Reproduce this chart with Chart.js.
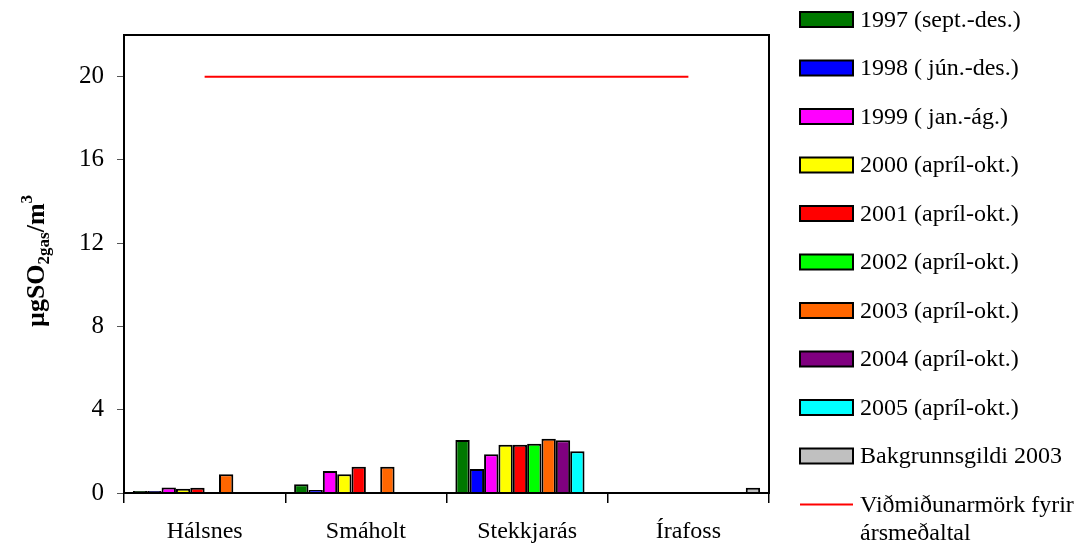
<!DOCTYPE html>
<html>
<head>
<meta charset="utf-8">
<script src="https://cdn.jsdelivr.net/npm/chart.js@4/dist/chart.umd.min.js"></script>
<style>
  html, body { margin: 0; padding: 0; background: #fff; }
  #wrap { width: 1087px; height: 550px; }
</style>
</head>
<body>
<div id="wrap"><canvas id="c" width="1087" height="550"></canvas></div>
<script>
// Measuring stations
const categories = ['Hálsnes', 'Smáholt', 'Stekkjarás', 'Írafoss'];

// Mean SO2 concentration (µg/m3) per station and measuring period
const s1997 = [0.1, 0.42, 2.55, null];
const s1998 = [0.1, 0.15, 1.15, null];
const s1999 = [0.27, 1.06, 1.86, null];
const s2000 = [0.2, 0.9, 2.32, null];
const s2001 = [0.25, 1.26, 2.32, null];
const s2002 = [null, null, 2.36, null];
const s2003 = [0.9, 1.26, 2.6, null];
const s2004 = [null, null, 2.53, null];
const s2005 = [null, null, 2.0, null];
const background2003 = [null, null, null, 0.25];

// Annual mean limit value
const limitValue = [20, 20, 20, 20];

const seriesLabels = [
  '1997 (sept.-des.)',
  '1998 ( jún.-des.)',
  '1999 ( jan.-ág.)',
  '2000 (apríl-okt.)',
  '2001 (apríl-okt.)',
  '2002 (apríl-okt.)',
  '2003 (apríl-okt.)',
  '2004 (apríl-okt.)',
  '2005 (apríl-okt.)',
  'Bakgrunnsgildi 2003'
];
const limitLabel = ['Viðmiðunarmörk fyrir', 'ársmeðaltal'];

const yTicks = [0, 4, 8, 12, 16, 20];

const seriesColors = ['#007800', '#0000ff', '#ff00ff', '#ffff00', '#ff0000',
                      '#00ff00', '#ff6600', '#800080', '#00ffff', '#c0c0c0'];

const FONT = '"Liberation Serif", "Times New Roman", serif';

const barSeries = [s1997, s1998, s1999, s2000, s2001, s2002, s2003, s2004, s2005, background2003];

const datasets = barSeries.map((d, i) => ({
  type: 'bar',
  label: seriesLabels[i],
  data: d,
  backgroundColor: seriesColors[i],
  borderColor: '#000',
  borderWidth: 2,
  categoryPercentage: 0.89,
  barPercentage: 1.0,
  order: 2
}));
datasets.push({
  type: 'line',
  label: limitLabel.join(' '),
  data: limitValue,
  borderColor: '#ff0000',
  borderWidth: 2,
  pointRadius: 0,
  fill: false,
  order: 1
});

// Frame around the plot area, y-axis title with sub/superscripts, and side legend
const decorations = {
  id: 'decorations',
  afterDraw(chart) {
    const ctx = chart.ctx;
    const a = chart.chartArea;
    ctx.save();
    ctx.strokeStyle = '#000';
    ctx.lineWidth = 2;
    ctx.strokeRect(a.left, a.top, a.right - a.left, a.bottom - a.top);
    ctx.restore();

    // Axis title: µgSO2gas/m3
    ctx.save();
    const parts = [
      { t: 'µgSO', size: 26, dy: 0 },
      { t: '2gas', size: 17, dy: 5 },
      { t: '/m', size: 26, dy: 0 },
      { t: '3', size: 17, dy: -12 }
    ];
    let total = 0;
    parts.forEach(p => { ctx.font = 'bold ' + p.size + 'px ' + FONT; p.w = ctx.measureText(p.t).width; total += p.w; });
    const cy = (a.top + a.bottom) / 2 - 3;
    ctx.translate(44, cy);
    ctx.rotate(-Math.PI / 2);
    ctx.fillStyle = '#000';
    ctx.textBaseline = 'alphabetic';
    ctx.textAlign = 'left';
    let x = -total / 2;
    parts.forEach(p => {
      ctx.font = 'bold ' + p.size + 'px ' + FONT;
      ctx.fillText(p.t, x, p.dy);
      x += p.w;
    });
    ctx.restore();

    // Legend
    ctx.save();
    const boxL = 800, boxW = 53, boxH = 15, textX = 860;
    const rowY0 = 19.5, rowStep = 48.5;
    ctx.font = '24px ' + FONT;
    ctx.textBaseline = 'middle';
    ctx.textAlign = 'left';
    chart.data.datasets.forEach((ds, i) => {
      const y = rowY0 + i * rowStep;
      if (ds.type === 'bar') {
        ctx.fillStyle = ds.backgroundColor;
        ctx.fillRect(boxL, y - boxH / 2, boxW, boxH);
        ctx.strokeStyle = '#000';
        ctx.lineWidth = 2;
        ctx.strokeRect(boxL, y - boxH / 2, boxW, boxH);
        ctx.fillStyle = '#000';
        ctx.fillText(ds.label, textX, y + 1);
      } else {
        ctx.strokeStyle = ds.borderColor;
        ctx.lineWidth = 2;
        ctx.beginPath();
        ctx.moveTo(boxL, y);
        ctx.lineTo(boxL + boxW, y);
        ctx.stroke();
        ctx.fillStyle = '#000';
        limitLabel.forEach((line, k) => ctx.fillText(line, textX, y + 1 + k * 28));
      }
    });
    ctx.restore();
  }
};

new Chart(document.getElementById('c'), {
  data: { labels: categories, datasets },
  options: {
    responsive: false,
    animation: false,
    layout: { padding: { top: 35, right: 318, left: 0, bottom: 0 } },
    plugins: { legend: { display: false }, tooltip: { enabled: false } },
    scales: {
      x: {
        offset: true,
        grid: { display: true, offset: true, drawOnChartArea: false, tickLength: 10, color: '#000', lineWidth: 1.5 },
        border: { display: true, color: '#000', width: 2 },
        ticks: { font: { family: FONT, size: 24 }, color: '#000', padding: 14, maxRotation: 0 },
        afterFit(scale) { scale.height = 57; }
      },
      y: {
        min: 0,
        max: 22,
        grid: { display: true, drawOnChartArea: false, tickLength: 7, color: '#555', lineWidth: 1 },
        border: { display: true, color: '#000', width: 2 },
        ticks: { font: { family: FONT, size: 25 }, color: '#000', padding: 13, stepSize: 4 },
        afterBuildTicks(scale) { scale.ticks = yTicks.map(v => ({ value: v })); },
        afterFit(scale) { scale.width = 124; }
      }
    }
  },
  plugins: [decorations]
});
</script>
</body>
</html>
